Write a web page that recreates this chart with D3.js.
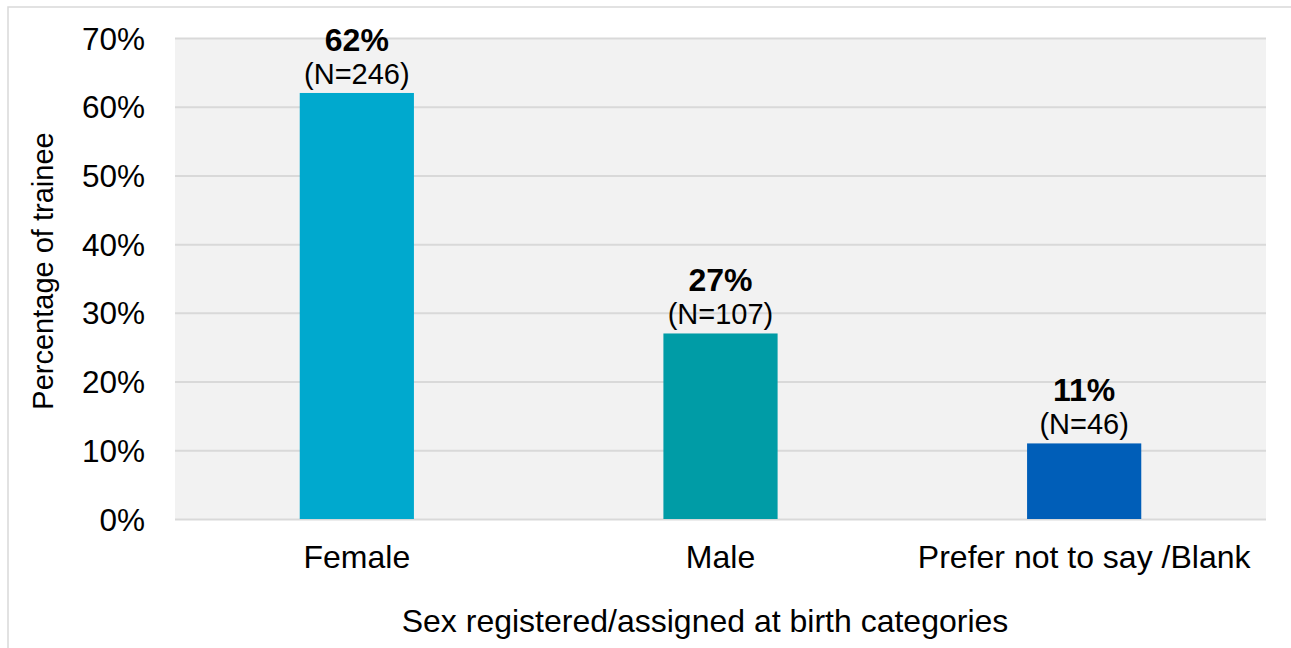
<!DOCTYPE html>
<html>
<head>
<meta charset="utf-8">
<script src="https://cdn.jsdelivr.net/npm/d3@7"></script>
<style>
  html, body { margin: 0; padding: 0; background: #ffffff; }
  svg { display: block; font-family: "Liberation Sans", Arial, sans-serif; }
</style>
</head>
<body>
<svg id="chart" width="1291" height="648"></svg>
<script>
// Trainees by sex registered/assigned at birth
const categories = ["Female", "Male", "Prefer not to say /Blank"];
const percentages = [62, 27, 11];
const counts = [246, 107, 46];
const barColors = ["#00A9CE", "#009CA6", "#005EB8"];
const yTicks = [0, 10, 20, 30, 40, 50, 60, 70];

const svg = d3.select("#chart");
const W = 1291, H = 648;
const plot = { left: 175, right: 1266, top: 38, bottom: 519 };

// Outer chart frame
svg.append("rect")
  .attr("x", 8).attr("y", 7)
  .attr("width", W + 20).attr("height", H + 20)
  .attr("fill", "#ffffff")
  .attr("stroke", "#D9D9D9").attr("stroke-width", 1.5);

const x = d3.scaleBand()
  .domain(categories)
  .range([plot.left, plot.right])
  .paddingInner(0.686)
  .paddingOuter(0.343);

const y = d3.scaleLinear()
  .domain([0, 70])
  .range([plot.bottom, plot.top]);

// Plot background
svg.append("rect")
  .attr("x", plot.left).attr("y", plot.top)
  .attr("width", plot.right - plot.left)
  .attr("height", plot.bottom - plot.top)
  .attr("fill", "#F2F2F2");

// Horizontal gridlines and percentage ticks
const yAxis = d3.axisLeft(y)
  .tickValues(yTicks)
  .tickFormat(d => d + "%")
  .tickSize(-(plot.right - plot.left))
  .tickPadding(30);

const gy = svg.append("g")
  .attr("transform", `translate(${plot.left},0)`)
  .call(yAxis);
gy.select(".domain").remove();
gy.selectAll(".tick line")
  .attr("stroke", "#D9D9D9").attr("stroke-width", 2);
gy.selectAll(".tick text")
  .attr("fill", "#000000")
  .style("font-size", "31.5px")
  .attr("dy", "0.35em");

// Bars
svg.append("g").selectAll("rect")
  .data(categories)
  .join("rect")
  .attr("x", d => x(d))
  .attr("y", (d, i) => y(percentages[i]))
  .attr("width", x.bandwidth())
  .attr("height", (d, i) => y(0) - y(percentages[i]))
  .attr("fill", (d, i) => barColors[i]);

// Value labels: percentage and count
const labels = svg.append("g");
labels.selectAll("text.pct")
  .data(categories)
  .join("text")
  .attr("class", "pct")
  .attr("x", d => x(d) + x.bandwidth() / 2)
  .attr("y", (d, i) => y(percentages[i]) - 42)
  .attr("text-anchor", "middle")
  .style("font-size", "32px")
  .style("font-weight", "bold")
  .text((d, i) => percentages[i] + "%");

labels.selectAll("text.cnt")
  .data(categories)
  .join("text")
  .attr("class", "cnt")
  .attr("x", d => x(d) + x.bandwidth() / 2)
  .attr("y", (d, i) => y(percentages[i]) - 9)
  .attr("text-anchor", "middle")
  .style("font-size", "29px")
  .text((d, i) => "(N=" + counts[i] + ")");

// Category axis labels
const xAxis = d3.axisBottom(x).tickSize(0).tickPadding(0);
const gx = svg.append("g")
  .attr("transform", `translate(0,${plot.bottom})`)
  .call(xAxis);
gx.select(".domain").remove();
gx.selectAll(".tick text")
  .attr("fill", "#000000")
  .attr("dy", null)
  .attr("y", 49)
  .style("font-size", "32px");

// Axis titles
svg.append("text")
  .attr("x", 705)
  .attr("y", 632)
  .attr("text-anchor", "middle")
  .style("font-size", "32px")
  .text("Sex registered/assigned at birth categories");

svg.append("text")
  .attr("transform", "translate(53,271) rotate(-90)")
  .attr("text-anchor", "middle")
  .style("font-size", "29px")
  .text("Percentage of trainee");
</script>
</body>
</html>
